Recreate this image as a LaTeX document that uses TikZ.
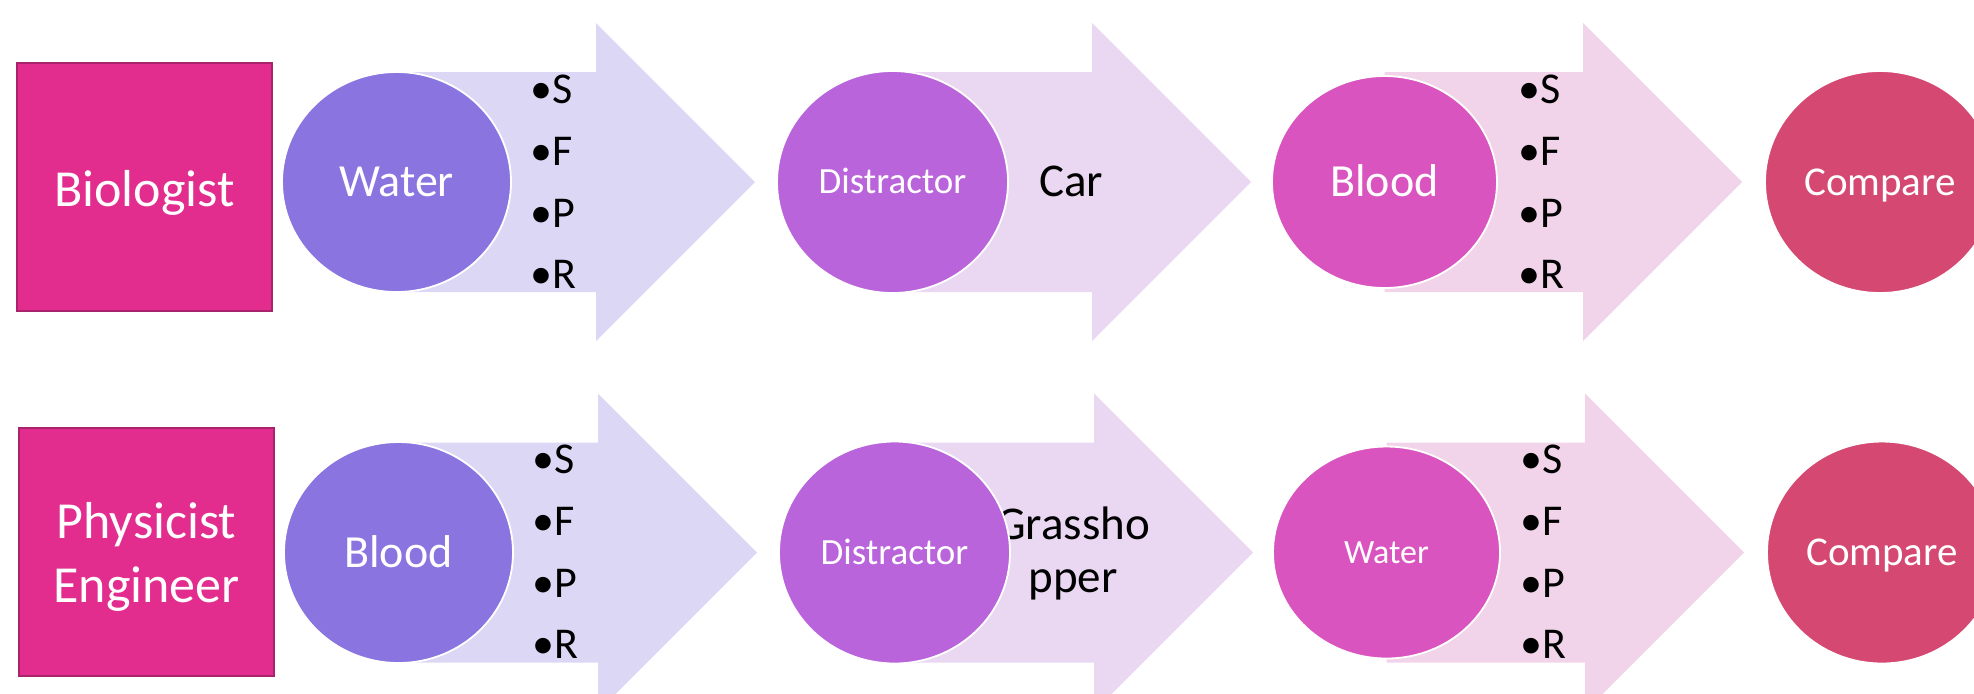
\documentclass[tikz,border=0pt]{standalone}
\usepackage{fontspec}
\setmainfont{Carlito}
\usetikzlibrary{shapes.geometric,calc}
\definecolor{boxfill}{HTML}{E22D8E}
\definecolor{boxdraw}{HTML}{A8226C}
\definecolor{cA}{HTML}{8A74E0}
\definecolor{aA}{HTML}{DCD7F5}
\definecolor{cB}{HTML}{B964DB}
\definecolor{aB}{HTML}{EAD7F2}
\definecolor{cC}{HTML}{D954BF}
\definecolor{aC}{HTML}{F2D4EA}
\definecolor{cD}{HTML}{D44872}
% #1 start coordinate (circle centre), #2 body end x (px), #3 tip x (px), #4 colour
\newcommand\blkarrow[4]{%
  \fill[#4] let \p1=(#1) in
    (\x1,\y1+55pt) -- (#2*0.5pt,\y1+55pt) -- (#2*0.5pt,\y1+79.5pt) --
    (#3*0.5pt,\y1) -- (#2*0.5pt,\y1-79.5pt) -- (#2*0.5pt,\y1-55pt) --
    (\x1,\y1-55pt) -- cycle;}
% #1 name prefix, #2 x, #3 first baseline
\newcommand\sfprlist[3]{%
  \node[lbl] (#1s) at (#2,#3) {•S};
  \node[lbl] (#1f) at (#2,#3+62) {•F};
  \node[lbl] (#1p) at (#2,#3+124) {•P};
  \node[lbl] (#1r) at (#2,#3+185) {•R};}
\begin{document}
\begin{tikzpicture}[x=0.5pt,y=-0.5pt,
  box/.style={draw=boxdraw, line width=1pt, fill=boxfill, minimum width=127.5pt,
    minimum height=124pt, inner sep=0pt},
  boxtext/.style={inner sep=0pt, anchor=base, align=center, text=white,
    font=\fontsize{26}{32}\selectfont},
  circ/.style={ellipse, draw=white, line width=0.9pt, inner sep=0pt, text=white,
    text depth=0pt},
  lbl/.style={inner sep=0pt, anchor=base west, font=\fontsize{22}{26}\selectfont},
  mid/.style={inner sep=0pt, anchor=base, align=center,
    font=\fontsize{23.5}{26.5}\selectfont},
  big/.style={font=\fontsize{23}{27}\selectfont, text height=14.8pt},
]
\clip (0,0) rectangle (1974,693);
% circle centres
\coordinate (p11) at (396.5,182);
\coordinate (p12) at (892.5,182);
\coordinate (p13) at (1384.5,182);
\coordinate (p14) at (1880,182);
\coordinate (p21) at (398.5,552.5);
\coordinate (p22) at (894.5,552.5);
\coordinate (p23) at (1386.5,552.5);
\coordinate (p24) at (1882,552.5);
% block arrows
\blkarrow{p11}{596}{755}{aA}
\blkarrow{p12}{1092}{1251}{aB}
\blkarrow{p13}{1583}{1742}{aC}
\blkarrow{p21}{598}{757}{aA}
\blkarrow{p22}{1094}{1253}{aB}
\blkarrow{p23}{1585}{1744}{aC}
% role boxes
\node[box] (bio) at (144.5,187) {};
\node[boxtext] (biot) at (144.5,206) {Biologist};
\node[box] (phy) at (146.5,551.5) {};
\node[boxtext] (phyt) at (146.5,602) {Physicist\\Engineer};
% arrow texts
\sfprlist{ba}{530}{103}
\sfprlist{bb}{1518}{103}
\sfprlist{bc}{532}{473}
\sfprlist{bd}{1520}{473}
\node[mid] (car) at (1071,196) {Car};
\node[mid] (gh) at (1073,592) {Grassho\\pper};
% circles
\node[circ, big, fill=cA, minimum width=114.5pt, minimum height=110pt] (c11) at (p11) {Water};
\node[circ, fill=cB, minimum width=115.5pt, minimum height=111pt,
  font=\fontsize{18.5}{22}\selectfont, text height=11.9pt] (c12) at (p12) {Distractor};
\node[circ, big, fill=cC, minimum width=112.5pt, minimum height=106pt] (c13) at (p13) {Blood};
\node[circ, fill=cD, minimum width=115pt, minimum height=111pt,
  font=\fontsize{20.5}{24}\selectfont, text height=13.2pt] (c14) at (p14) {Compare};
\node[circ, big, fill=cA, minimum width=114.5pt, minimum height=110.5pt] (c21) at (p21) {Blood};
\node[circ, fill=cB, minimum width=115.5pt, minimum height=111pt,
  font=\fontsize{18.5}{22}\selectfont, text height=11.9pt] (c22) at (p22) {Distractor};
\node[circ, fill=cC, minimum width=113.5pt, minimum height=106pt,
  font=\fontsize{17}{20}\selectfont, text height=10.9pt] (c23) at (p23) {Water};
\node[circ, fill=cD, minimum width=115pt, minimum height=111pt,
  font=\fontsize{20.5}{24}\selectfont, text height=13.2pt] (c24) at (p24) {Compare};
\end{tikzpicture}
\end{document}
